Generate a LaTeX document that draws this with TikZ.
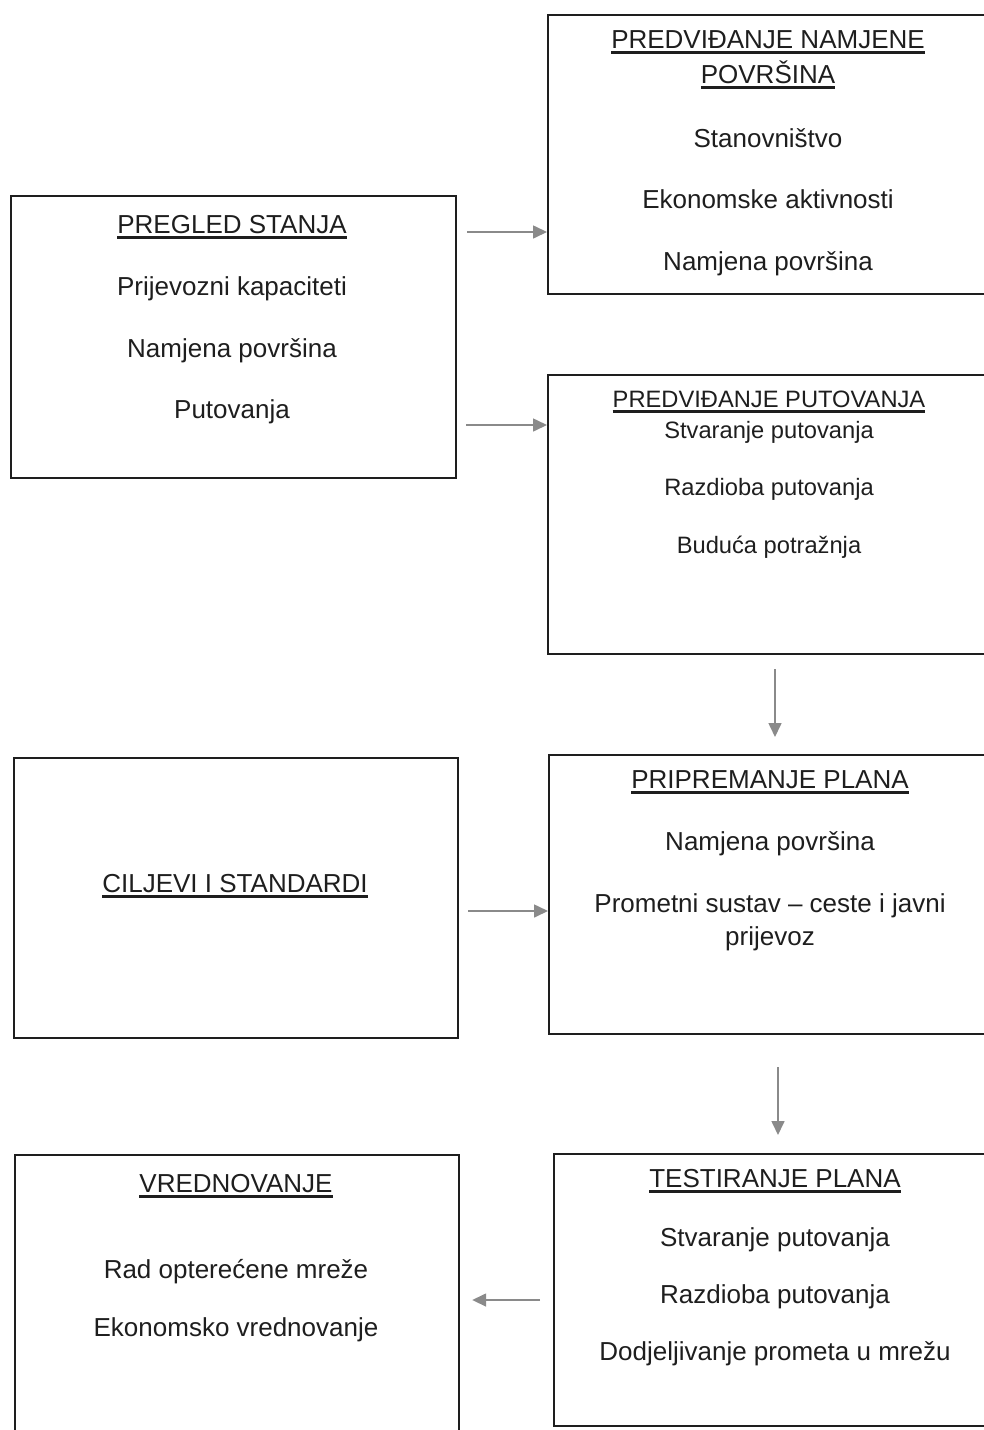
\documentclass[tikz,border=0pt]{standalone}
\usepackage{fontspec}
\setmainfont{Liberation Sans}
\usetikzlibrary{arrows.meta}
\definecolor{ink}{HTML}{1E1E1E}
\definecolor{arrowgray}{HTML}{8A8A8A}
\newsavebox{\ttlbox}
\newcommand{\ttl}[1]{\sbox{\ttlbox}{#1}\rlap{\rule[-5.5pt]{\wd\ttlbox}{2.5pt}}\usebox{\ttlbox}}
\tikzset{box/.style={draw=ink,line width=2.2pt,rectangle,anchor=north west,inner sep=0},
         txt/.style={anchor=base,inner sep=0,text=ink,font=\fontsize{26}{31}\selectfont},
         smalltxt/.style={txt,font=\fontsize{23.7}{28}\selectfont},
         arr/.style={draw=arrowgray,line width=1.6pt,-{Triangle[length=14pt,width=13pt]}}}

\begin{document}
\begin{tikzpicture}[x=1pt,y=-1pt]
\useasboundingbox (0,0) rectangle (984,1430);
\clip (0,0) rectangle (984,1430);
\node[box,minimum width=445pt,minimum height=282pt] (pregled) at (10,195) {};
\node[box,minimum width=450pt,minimum height=279pt] (namjena) at (547,14) {};
\node[box,minimum width=450pt,minimum height=279pt] (putovanja) at (547,374) {};
\node[box,minimum width=444pt,minimum height=280pt] (ciljevi) at (13,757) {};
\node[box,minimum width=450pt,minimum height=279pt] (priprema) at (548,754) {};
\node[box,minimum width=444pt,minimum height=300pt] (vrednovanje) at (14,1154) {};
\node[box,minimum width=445pt,minimum height=272pt] (testiranje) at (553,1153) {};

\node[txt] (pregled-t) at (232,233) {\ttl{PREGLED STANJA}};
\foreach \y/\t [count=\i] in {295/Prijevozni kapaciteti,357/Namjena površina,418/Putovanja}
  \node[txt] (pregled-\i) at (232,\y) {\t};

\node[txt] (namjena-t1) at (768,48) {\ttl{PREDVIĐANJE NAMJENE}};
\node[txt] (namjena-t2) at (768,83) {\ttl{POVRŠINA}};
\foreach \y/\t [count=\i] in {147/Stanovništvo,208/Ekonomske aktivnosti,270/Namjena površina}
  \node[txt] (namjena-\i) at (768,\y) {\t};

\node[smalltxt] (putovanja-t) at (769,407) {\ttl{PREDVIĐANJE PUTOVANJA}};
\foreach \y/\t [count=\i] in {438/Stvaranje putovanja,495/Razdioba putovanja,553/Buduća potražnja}
  \node[smalltxt] (putovanja-\i) at (769,\y) {\t};

\node[txt] (ciljevi-t) at (235,892) {\ttl{CILJEVI I STANDARDI}};

\node[txt] (priprema-t) at (770,788) {\ttl{PRIPREMANJE PLANA}};
\foreach \y/\t [count=\i] in {850/Namjena površina,912/Prometni sustav – ceste i javni,945/prijevoz}
  \node[txt] (priprema-\i) at (770,\y) {\t};

\node[txt] (vrednovanje-t) at (236,1192) {\ttl{VREDNOVANJE}};
\foreach \y/\t [count=\i] in {1278/Rad opterećene mreže,1336/Ekonomsko vrednovanje}
  \node[txt] (vrednovanje-\i) at (236,\y) {\t};

\node[txt] (testiranje-t) at (775,1187) {\ttl{TESTIRANJE PLANA}};
\foreach \y/\t [count=\i] in {1246/Stvaranje putovanja,1303/Razdioba putovanja,1360/Dodjeljivanje prometa u mrežu}
  \node[txt] (testiranje-\i) at (775,\y) {\t};

\coordinate (a1) at (467,232);
\coordinate (a2) at (466,425);
\coordinate (a4) at (468,911);
\coordinate (a6) at (540,1300);
\draw[arr] (a1) -- (a1 -| namjena.west);
\draw[arr] (a2) -- (a2 -| putovanja.west);
\draw[arr,shorten <=14pt,shorten >=17pt] (putovanja.south -| 775,0) -- (priprema.north -| 775,0);
\draw[arr] (a4) -- (a4 -| priprema.west);
\draw[arr,shorten <=32pt,shorten >=18pt] (priprema.south -| 778,0) -- (testiranje.north -| 778,0);
\draw[arr,shorten >=12pt] (a6) -- (a6 -| vrednovanje.east);
\end{tikzpicture}
\end{document}
